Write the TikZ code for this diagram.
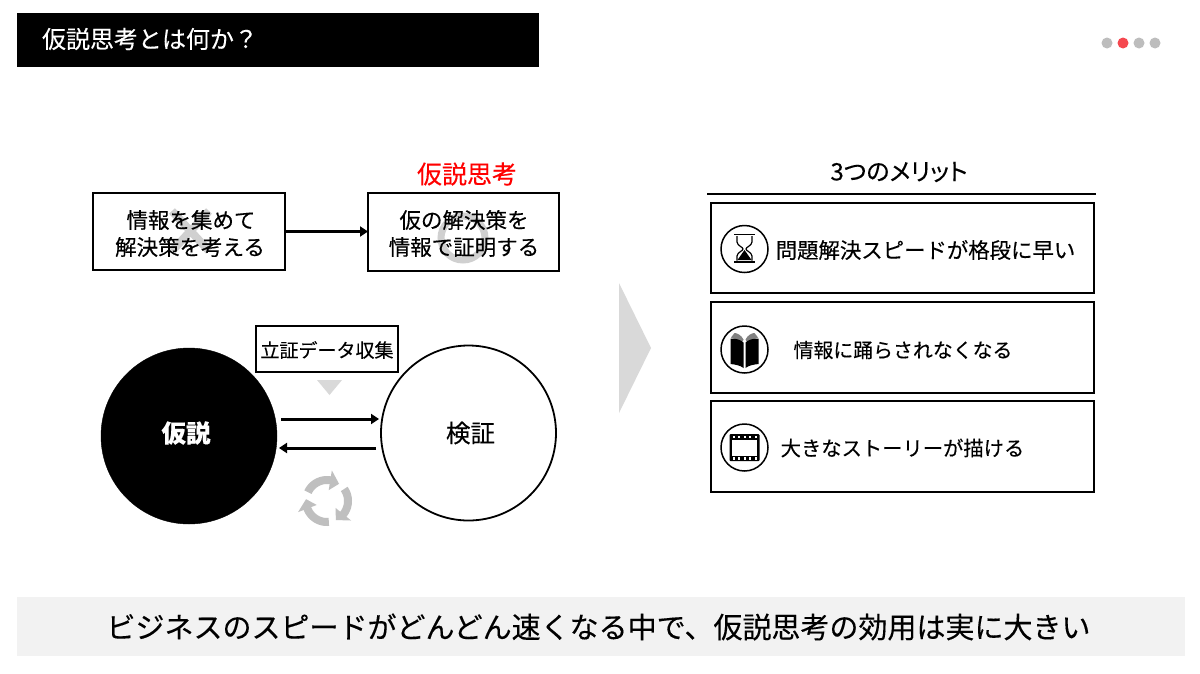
\documentclass[tikz,border=0pt]{standalone}
\usepackage{fontspec}
\setmainfont{Noto Sans CJK JP}[RawFeature={embolden=0.25}]
\newfontfamily\palt{Noto Sans CJK JP}[RawFeature={+palt;embolden=0.25}]
\usetikzlibrary{arrows.meta}
\definecolor{softgray}{HTML}{D9D9D9}
\definecolor{midgray}{HTML}{BFBFBF}
\definecolor{dotgray}{HTML}{BDBDBD}
\definecolor{dotred}{HTML}{F5484F}
\definecolor{band}{HTML}{F2F2F2}
\newcommand{\fs}[1]{\fontsize{#1}{#1}\selectfont}
\tikzset{
  x=1pt,y=-1pt,
  txt/.style={inner sep=0pt,outer sep=0pt,align=center,text=black},
  framebox/.style={draw=black,line width=1.6pt,fill=none,inner sep=0pt,outer sep=0pt,minimum width=#1},
  linkarrow/.style={draw=black,line width=3pt,-{Triangle[length=8pt,width=10pt]}},
  badge/.style={circle,draw=black,line width=1.5pt,minimum size=47pt,inner sep=0pt,fill=white},
  dot/.style={circle,fill=dotgray,minimum size=11pt,inner sep=0pt},
}
\begin{document}
\begin{tikzpicture}
\useasboundingbox (0,0) rectangle (1200,673);
\fill[white] (0,0) rectangle (1200,673);
% title
\fill[black] (17,13) rectangle (539,67);
\node[txt,anchor=west,text=white,font=\fs{24}] (title) at (42,39) {仮説思考とは何か？};
% dots
\node[dot] (d1) at (1107,43) {};
\node[dot,fill=dotred] (d2) at (1123,43) {};
\node[dot] (d3) at (1139,43) {};
\node[dot] (d4) at (1155,43) {};
% marks behind the boxes
\draw[softgray!90!gray,line width=8pt] (172,211) -- (209,251) (209,211) -- (172,251);
\draw[softgray!90!gray,line width=7pt] (463,238) circle (22);
% top boxes
\node[framebox=192pt,minimum height=77pt] (b1) at (189,231.5) {};
\node[framebox=191pt,minimum height=78pt] (b2) at (463.5,232) {};
\node[txt,font=\fs{21.5}] (t1a) at (191,220) {情報を集めて};
\node[txt,font=\fs{21.5}] (t1b) at (190,247) {解決策を考える};
\node[txt,font=\fs{21.5}] (t2a) at (464,220) {仮の解決策を};
\node[txt,font=\fs{21.5}] (t2b) at (464,247) {情報で証明する};
\draw[linkarrow] (b1.east) -- (b1.east -| b2.west);
\node[txt,text=red,font=\fs{25}] (hyp) at (467,174) {仮説思考};
% circles
\node[circle,fill=black,draw=black,minimum size=176pt,inner sep=0pt] (c1) at (189,436) {};
\node[circle,draw=black,line width=1.8pt,minimum size=175pt,inner sep=0pt] (c2) at (468.5,433) {};
\node[txt,text=white,font=\fs{24.5}\bfseries] (ct1) at (186,433) {仮説};
\node[txt,font=\fs{24.5}] (ct2) at (470.5,433) {検証};
\node[framebox=142pt,minimum height=46pt,line width=1.4pt,fill=white] (lab) at (327,349) {};
\node[txt,font=\fs{19}] (labt) at (327,350) {立証データ収集};
\fill[softgray] (317,380) -- (342,380) -- (329.5,395) -- cycle;
\coordinate (a1) at (281,419); \coordinate (a2) at (379,419);
\coordinate (a3) at (376,448); \coordinate (a4) at (279,448);
\draw[linkarrow] (a1) -- (a2);
\draw[linkarrow] (a3) -- (a4);
% cycle arrows
\begin{scope}[shift={(327,501)}]
\foreach \t in {-55,65,185}{
  \draw[midgray,line width=8pt,domain=\t-100:\t-22,samples=24,smooth] plot (\x:21);
  \fill[midgray] (\t-26:11) -- (\t-26:31) -- (\t:21) -- cycle;
}
\end{scope}
% chevron
\fill[softgray] (619,283) -- (651,348) -- (619,413) -- cycle;
% right column
\node[txt,font=\fs{24}\palt] (mer) at (899,172) {3つのメリット};
\coordinate (r1) at (707,194); \coordinate (r2) at (1096,194);
\draw[black,line width=1.4pt] (r1) -- (r2);
\node[framebox=383pt,minimum height=90pt] (m1) at (902.5,248) {};
\node[framebox=383pt,minimum height=91pt] (m2) at (902.5,347.5) {};
\node[framebox=383pt,minimum height=91pt] (m3) at (902.5,446.5) {};
\node[txt,font=\fs{21.4}] (mt1) at (925.5,250) {問題解決スピードが格段に早い};
\node[txt,font=\fs{19.9}] (mt2) at (903,350) {情報に踊らされなくなる};
\node[txt,font=\fs{20.3}] (mt3) at (902.5,448) {大きなストーリーが描ける};
\node[badge] (i1) at (744.5,249) {};
\node[badge] (i2) at (744.5,349.5) {};
\node[badge] (i3) at (744.5,447.5) {};
% hourglass
\begin{scope}[shift={(744.5,249)}]
\draw[black,line width=1.6pt] (-10.5,-14.5) -- (10.5,-14.5);
\draw[black,line width=2.4pt] (-10.5,13) -- (10.5,13);
\draw[black,line width=1.2pt] (-7.5,-13) -- (-7.5,-7) .. controls (-7,-3) and (-1.5,-2) .. (-1.5,0) .. controls (-1.5,2) and (-7,3) .. (-7.5,7) -- (-7.5,11.5);
\draw[black,line width=1.2pt] (7.5,-13) -- (7.5,-7) .. controls (7,-3) and (1.5,-2) .. (1.5,0) .. controls (1.5,2) and (7,3) .. (7.5,7) -- (7.5,11.5);
\fill[black] (-7,11) -- (0,1) -- (7,11) -- cycle;
\end{scope}
% book
\begin{scope}[shift={(744.5,349.5)}]
\fill[gray] (-1,-10) .. controls (-3,-14) and (-7,-16.5) .. (-10,-16.5) -- (-13.5,-12) -- (-2,-8) -- cycle;
\fill[gray] (1,-10) .. controls (3,-14) and (7,-16.5) .. (10,-16.5) -- (13.5,-12) -- (2,-8) -- cycle;
\fill[black] (-14,-11) .. controls (-9,-11) and (-4,-10) .. (-1,-7) -- (-1,18.5) .. controls (-4,16) and (-9,15) .. (-14,14.5) -- cycle;
\fill[black] (14,-11) .. controls (9,-11) and (4,-10) .. (1,-7) -- (1,18.5) .. controls (4,16) and (9,15) .. (14,14.5) -- cycle;
\end{scope}
% film
\begin{scope}[shift={(744.5,447.5)}]
\fill[black,rounded corners=1pt] (-15,-13.5) rectangle (15,13.5);
\fill[white] (-12.5,-8) rectangle (12.5,8);
\foreach \p in {-12,-6.5,-1,4.5,10}{
  \fill[white] (\p,-12) rectangle (\p+2.4,-9.7);
  \fill[white] (\p,9.7) rectangle (\p+2.4,12);
}
\end{scope}
% bottom band
\fill[band] (17,597) rectangle (1185,656);
\node[txt,font=\fs{29}] (bot) at (598.5,627) {ビジネスのスピードがどんどん速くなる中で、仮説思考の効用は実に大きい};
\end{tikzpicture}
\end{document}
